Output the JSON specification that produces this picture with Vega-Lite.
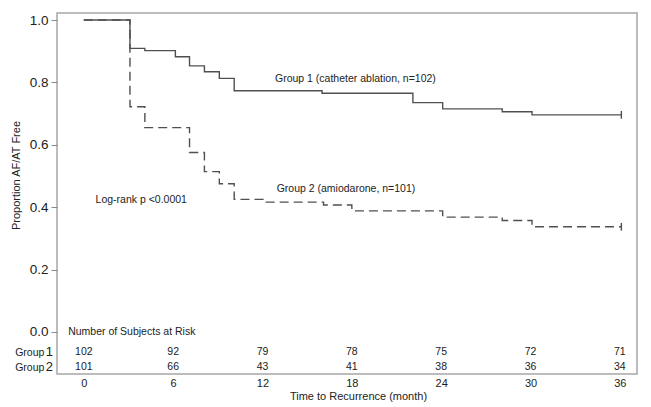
{
  "$schema": "https://vega.github.io/schema/vega-lite/v6.json",
  "width": 580,
  "height": 361,
  "autosize": {"type": "none"},
  "padding": {"left": 57, "top": 13, "right": 14, "bottom": 33},
  "background": "white",
  "config": {
    "font": "Liberation Sans",
    "view": {"stroke": "#a6a6a6", "strokeWidth": 1.5}
  },
  "datasets": {
    "curves": [
      {"group": "Group 1", "t": 0, "s": 1.0},
      {"group": "Group 1", "t": 3.1, "s": 0.909},
      {"group": "Group 1", "t": 4.1, "s": 0.902},
      {"group": "Group 1", "t": 6.15, "s": 0.882},
      {"group": "Group 1", "t": 7.1, "s": 0.853},
      {"group": "Group 1", "t": 8.1, "s": 0.834},
      {"group": "Group 1", "t": 9.1, "s": 0.813},
      {"group": "Group 1", "t": 10.1, "s": 0.773},
      {"group": "Group 1", "t": 16.0, "s": 0.765},
      {"group": "Group 1", "t": 22.1, "s": 0.735},
      {"group": "Group 1", "t": 24.1, "s": 0.715},
      {"group": "Group 1", "t": 28.1, "s": 0.706},
      {"group": "Group 1", "t": 30.1, "s": 0.696},
      {"group": "Group 1", "t": 36.1, "s": 0.696},
      {"group": "Group 2", "t": 0, "s": 1.0},
      {"group": "Group 2", "t": 3.1, "s": 0.722},
      {"group": "Group 2", "t": 4.1, "s": 0.655},
      {"group": "Group 2", "t": 7.1, "s": 0.575},
      {"group": "Group 2", "t": 8.1, "s": 0.514},
      {"group": "Group 2", "t": 9.1, "s": 0.475},
      {"group": "Group 2", "t": 10.1, "s": 0.425},
      {"group": "Group 2", "t": 12.05, "s": 0.416},
      {"group": "Group 2", "t": 16.1, "s": 0.407},
      {"group": "Group 2", "t": 18.0, "s": 0.388},
      {"group": "Group 2", "t": 24.1, "s": 0.368},
      {"group": "Group 2", "t": 28.1, "s": 0.357},
      {"group": "Group 2", "t": 30.1, "s": 0.337},
      {"group": "Group 2", "t": 36.1, "s": 0.337}
    ],
    "censor": [
      {"group": "Group 1", "t": 36.1, "s": 0.696},
      {"group": "Group 2", "t": 36.1, "s": 0.337}
    ],
    "atrisk": [
      {"group": 1, "t": 0, "n": 102},
      {"group": 1, "t": 6, "n": 92},
      {"group": 1, "t": 12, "n": 79},
      {"group": 1, "t": 18, "n": 78},
      {"group": 1, "t": 24, "n": 75},
      {"group": 1, "t": 30, "n": 72},
      {"group": 1, "t": 36, "n": 71},
      {"group": 2, "t": 0, "n": 101},
      {"group": 2, "t": 6, "n": 66},
      {"group": 2, "t": 12, "n": 43},
      {"group": 2, "t": 18, "n": 41},
      {"group": 2, "t": 24, "n": 38},
      {"group": 2, "t": 30, "n": 36},
      {"group": 2, "t": 36, "n": 34}
    ],
    "notes": [
      {"label": "Group 1 (catheter ablation, n=102)"},
      {"label": "Group 2 (amiodarone, n=101)"},
      {"label": "Log-rank p <0.0001"},
      {"label": "Number of Subjects at Risk"},
      {"label": "Group"},
      {"label": "1"},
      {"label": "2"}
    ]
  },
  "layer": [
    {
      "data": {"name": "curves"},
      "mark": {"type": "line", "interpolate": "step-after", "color": "#505050", "strokeWidth": 1.4},
      "encoding": {
        "x": {
          "field": "t",
          "type": "quantitative",
          "scale": {"domain": [-1.8, 37.15], "nice": false, "zero": false},
          "axis": {
            "values": [0, 6, 12, 18, 24, 30, 36],
            "ticks": false,
            "domain": false,
            "grid": false,
            "labelPadding": 3,
            "labelFontSize": 11,
            "labelColor": "#222222",
            "title": "Time to Recurrence (month)",
            "titleFontSize": 11,
            "titleFontWeight": "normal",
            "titleColor": "#222222",
            "titlePadding": 2,
            "titleX": 301
          }
        },
        "y": {
          "field": "s",
          "type": "quantitative",
          "scale": {"domain": [-0.135, 1.0225], "nice": false, "zero": false},
          "axis": {
            "values": [0, 0.2, 0.4, 0.6, 0.8, 1.0],
            "format": ".1f",
            "domain": false,
            "grid": false,
            "tickSize": 6,
            "tickColor": "#888888",
            "labelFontSize": 13.5,
            "labelPadding": 3,
            "labelColor": "#222222",
            "title": "Proportion AF/AT Free",
            "titleFontSize": 11,
            "titleFontWeight": "normal",
            "titleColor": "#222222",
            "titlePadding": 8,
            "titleY": 162
          }
        },
        "detail": {"field": "group"},
        "strokeDash": {
          "field": "group",
          "type": "nominal",
          "scale": {"domain": ["Group 1", "Group 2"], "range": [[1, 0], [9, 5]]},
          "legend": null
        }
      }
    },
    {
      "data": {"name": "censor"},
      "mark": {"type": "point", "shape": "M0,-1L0,1", "size": 60, "filled": false, "stroke": "#505050", "strokeWidth": 1.4, "opacity": 1},
      "encoding": {
        "x": {"field": "t", "type": "quantitative"},
        "y": {"field": "s", "type": "quantitative"}
      }
    },
    {
      "data": {"name": "notes"},
      "transform": [{"filter": "datum.label == 'Group 1 (catheter ablation, n=102)'"}],
      "mark": {"type": "text", "align": "left", "baseline": "middle", "fontSize": 10.5, "fill": "#222222"},
      "encoding": {"x": {"datum": 12.84}, "y": {"datum": 0.811}, "text": {"field": "label", "type": "nominal"}}
    },
    {
      "data": {"name": "notes"},
      "transform": [{"filter": "datum.label == 'Group 2 (amiodarone, n=101)'"}],
      "mark": {"type": "text", "align": "left", "baseline": "middle", "fontSize": 10.5, "fill": "#222222"},
      "encoding": {"x": {"datum": 12.95}, "y": {"datum": 0.458}, "text": {"field": "label", "type": "nominal"}}
    },
    {
      "data": {"name": "notes"},
      "transform": [{"filter": "datum.label == 'Log-rank p <0.0001'"}],
      "mark": {"type": "text", "align": "left", "baseline": "middle", "fontSize": 10.5, "fill": "#222222"},
      "encoding": {"x": {"datum": 0.79}, "y": {"datum": 0.423}, "text": {"field": "label", "type": "nominal"}}
    },
    {
      "data": {"name": "notes"},
      "transform": [{"filter": "datum.label == 'Number of Subjects at Risk'"}],
      "mark": {"type": "text", "align": "left", "baseline": "middle", "fontSize": 10.5, "fill": "#222222"},
      "encoding": {"x": {"datum": -1.05}, "y": {"datum": 0.0}, "text": {"field": "label", "type": "nominal"}}
    },
    {
      "data": {"name": "atrisk"},
      "transform": [{"filter": "datum.group == 1"}],
      "mark": {"type": "text", "align": "center", "baseline": "middle", "fontSize": 10.5, "fill": "#222222"},
      "encoding": {"x": {"field": "t", "type": "quantitative"}, "y": {"datum": -0.066}, "text": {"field": "n", "type": "quantitative"}}
    },
    {
      "data": {"name": "atrisk"},
      "transform": [{"filter": "datum.group == 2"}],
      "mark": {"type": "text", "align": "center", "baseline": "middle", "fontSize": 10.5, "fill": "#222222"},
      "encoding": {"x": {"field": "t", "type": "quantitative"}, "y": {"datum": -0.113}, "text": {"field": "n", "type": "quantitative"}}
    },
    {
      "data": {"name": "notes"},
      "transform": [{"filter": "datum.label == 'Group'"}],
      "mark": {"type": "text", "align": "right", "baseline": "middle", "fontSize": 10.5, "fill": "#222222"},
      "encoding": {"x": {"datum": -2.65}, "y": {"datum": -0.068}, "text": {"field": "label", "type": "nominal"}}
    },
    {
      "data": {"name": "notes"},
      "transform": [{"filter": "datum.label == 'Group'"}],
      "mark": {"type": "text", "align": "right", "baseline": "middle", "fontSize": 10.5, "fill": "#222222"},
      "encoding": {"x": {"datum": -2.65}, "y": {"datum": -0.115}, "text": {"field": "label", "type": "nominal"}}
    },
    {
      "data": {"name": "notes"},
      "transform": [{"filter": "datum.label == '1'"}],
      "mark": {"type": "text", "align": "left", "baseline": "middle", "fontSize": 13, "fill": "#222222"},
      "encoding": {"x": {"datum": -2.55}, "y": {"datum": -0.066}, "text": {"field": "label", "type": "nominal"}}
    },
    {
      "data": {"name": "notes"},
      "transform": [{"filter": "datum.label == '2'"}],
      "mark": {"type": "text", "align": "left", "baseline": "middle", "fontSize": 13, "fill": "#222222"},
      "encoding": {"x": {"datum": -2.55}, "y": {"datum": -0.113}, "text": {"field": "label", "type": "nominal"}}
    }
  ]
}
